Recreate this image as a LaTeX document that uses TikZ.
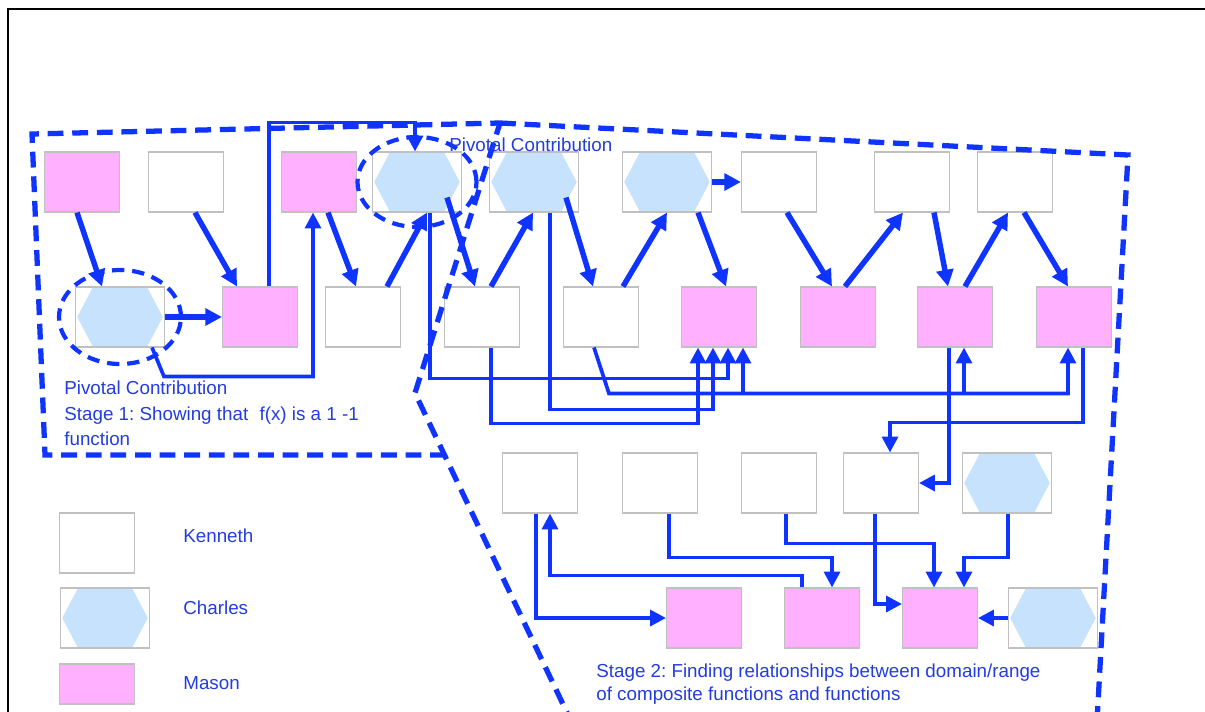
\documentclass[tikz,border=0pt]{standalone}
\usepackage{fontspec}
\setmainfont{Liberation Sans}
\usetikzlibrary{arrows.meta,calc}

\definecolor{penblue}{RGB}{16,52,255}
\definecolor{inkblue}{RGB}{35,60,225}
\definecolor{masonpink}{RGB}{255,176,255}
\definecolor{charlesblue}{RGB}{198,226,252}
\definecolor{boxgray}{RGB}{192,192,192}

\tikzset{
    % Kenneth: plain white box
    kenneth/.style={
        draw=boxgray,
        fill=white,
        line width=0.6pt,
        minimum width=1.5cm,
        minimum height=1.2cm,
        inner sep=0pt
    },
    % Mason: pink box
    mason/.style={
        kenneth,
        fill=masonpink
    },
    % Charles: hexagon in a box
    charles/.style={
        kenneth,
        minimum width=1.78cm,
        path picture={
            \fill[charlesblue]
                ([xshift=1pt]path picture bounding box.west)
                -- ([xshift=-0.54cm]path picture bounding box.north)
                -- ([xshift=0.54cm]path picture bounding box.north)
                -- ([xshift=-1pt]path picture bounding box.east)
                -- ([xshift=0.54cm]path picture bounding box.south)
                -- ([xshift=-0.54cm]path picture bounding box.south)
                -- cycle;
        }
    },
    % Diagonal moves
    push/.style={
        -{Triangle[length=9.5pt,width=9.5pt]},
        line width=3.1pt,
        penblue
    },
    % Elbow links
    link/.style={
        -{Triangle[length=9pt,width=9pt]},
        line width=2.1pt,
        penblue
    },
    % Stage outlines
    stagezone/.style={
        penblue,
        line width=3pt,
        dash pattern=on 9pt off 5pt
    },
    % Rings round pivotal contributions
    pivotring/.style={
        penblue,
        line width=2.4pt,
        dash pattern=on 7pt off 4.5pt
    },
    % Blue text
    caption/.style={
        text=inkblue,
        font=\fontsize{10.7}{14}\selectfont\frenchspacing,
        align=left,
        anchor=west,
        inner sep=0pt
    }
}

\begin{document}
\begin{tikzpicture}[x=0.02cm, y=-0.02cm]

\useasboundingbox (0,0) rectangle (1205,711);

% ==================== FRAME ====================
\draw[black, line width=1.6pt] (8,740) -- (8,9) -- (1240,9);

% ==================== TOP ROW ====================
\node[mason]   (top1) at (82,182) {};
\node[kenneth] (top2) at (186,182) {};
\node[mason]   (top3) at (319,182) {};
\node[charles] (top4) at (417,182) {};
\node[charles] (top5) at (534,182) {};
\node[charles] (top6) at (667,182) {};
\node[kenneth] (top7) at (779,182) {};
\node[kenneth] (top8) at (912,182) {};
\node[kenneth] (top9) at (1015,182) {};

% ==================== MIDDLE ROW ====================
\node[charles] (mid1) at (120,317) {};
\node[mason]   (mid2) at (260,317) {};
\node[kenneth] (mid3) at (363,317) {};
\node[kenneth] (mid4) at (482,317) {};
\node[kenneth] (mid5) at (601,317) {};
\node[mason]   (mid6) at (719,317) {};
\node[mason]   (mid7) at (838,317) {};
\node[mason]   (mid8) at (955,317) {};
\node[mason]   (mid9) at (1074,317) {};

% ==================== LOWER ROWS ====================
\node[kenneth] (low1) at (540,483) {};
\node[kenneth] (low2) at (660,483) {};
\node[kenneth] (low3) at (779,483) {};
\node[kenneth] (low4) at (881,483) {};
\node[charles] (low5) at (1007,483) {};

\node[mason]   (bot1) at (704,618) {};
\node[mason]   (bot2) at (822,618) {};
\node[mason]   (bot3) at (940,618) {};
\node[charles] (bot4) at (1053,618) {};

% ==================== STAGE 1 MOVES ====================
\draw[push] ($(top1.south)+(-5,0)$) -- ($(mid1.north)+(-18,0)$);
\draw[push] ($(top2.south)+(9,0)$) -- ($(mid2.north)+(-23,0)$);
\draw[push] (mid1.east) -- (mid2.west);
\draw[link] ($(mid2.north)+(9,0)$) |- ($(top4.north)+(-2,-29)$) -- ($(top4.north)+(-2,0)$);
\draw[link] ($(mid1.south)+(32,0)$) -- ($(mid1.south)+(44,29)$) -| ($(top3.south)+(-6,0)$);
\draw[push] ($(top3.south)+(9,0)$) -- ($(mid3.north)+(-7,0)$);
\draw[push] ($(mid3.north)+(24,0)$) -- ($(top4.south)+(10,0)$);
\draw[push] ($(top4.south east)+(-15,-15)$) -- ($(mid4.north)+(-7,0)$);

% ==================== STAGE 2 MOVES ====================
\draw[push] ($(mid4.north)+(9,0)$) -- ($(top5.south)+(-1,0)$);
\draw[push] ($(top5.south east)+(-13,-15)$) -- ($(mid5.north)+(-8,0)$);
\draw[push] ($(mid5.north)+(22,0)$) -- (top6.south);
\draw[push] ($(top6.south)+(31,0)$) -- ($(mid6.north)+(7,0)$);
\draw[push] (top6.east) -- (top7.west);
\draw[push] ($(top7.south)+(8,0)$) -- ($(mid7.north)+(-6,0)$);
\draw[push] ($(mid7.north)+(7,0)$) -- ($(top8.south)+(-9,0)$);
\draw[push] ($(top8.south)+(22,0)$) -- ($(mid8.north)+(-7,0)$);
\draw[push] ($(mid8.north)+(10,0)$) -- ($(top9.south)+(-7,0)$);
\draw[push] ($(top9.south)+(9,0)$) -- ($(mid9.north)+(-6,0)$);

% links into the middle row
\draw[link] ($(top4.south)+(13,0)$) |- ($(mid6.south)+(9,31)$) -- ($(mid6.south)+(9,0)$);
\draw[link] ($(mid4.south)+(9,0)$) |- ($(mid6.south)+(-21,76)$) -- ($(mid6.south)+(-21,0)$);
\draw[link] ($(top5.south)+(16,0)$) |- ($(mid6.south)+(-6,62)$) -- ($(mid6.south)+(-6,0)$);
\draw[link] ($(mid5.south)+(-7,0)$) -- ($(mid5.south)+(8,46)$) -| ($(mid9.south)+(-6,0)$);
\draw[link] ($(mid6.south)+(24,46)$) -- ($(mid6.south)+(24,0)$);
\draw[link] ($(mid8.south)+(9,46)$) -- ($(mid8.south)+(9,0)$);

% links down to the lower rows
\draw[link] ($(mid8.south)+(-6,0)$) |- (low4.east);
\draw[link] ($(mid9.south)+(9,0)$) |- ($(low4.north)+(9,-30)$) -- ($(low4.north)+(9,0)$);
\draw[link] ($(low1.south)+(-4,0)$) |- (bot1.west);
\draw[link] ($(bot2.north)+(-20,0)$) |- ($(low1.south)+(10,62)$) -- ($(low1.south)+(10,0)$);
\draw[link] ($(low2.south)+(9,0)$) |- ($(bot2.north)+(10,-30)$) -- ($(bot2.north)+(10,0)$);
\draw[link] ($(low3.south)+(7,0)$) |- ($(bot3.north)+(-6,-44)$) -- ($(bot3.north)+(-6,0)$);
\draw[link] ($(low4.south)+(-6,0)$) |- ($(bot3.west)+(0,-14)$);
\draw[link] ($(low5.south)+(1,0)$) |- ($(bot3.north)+(24,-30)$) -- ($(bot3.north)+(24,0)$);
\draw[link] (bot4.west) -- (bot3.east);

% ==================== PIVOTAL RINGS ====================
\draw[pivotring] (top4.center) ellipse [x radius=1.19cm, y radius=0.9cm];
\draw[pivotring] (mid1.center) ellipse [x radius=1.22cm, y radius=0.94cm];

% ==================== STAGE OUTLINES ====================
\draw[stagezone] (446,455) -- (45,455) -- (32,134) -- (500,123);
\draw[stagezone] (500,123) -- (1128,155) -- (1096,740) -- (580,740) -- (415,393) -- cycle;

% ==================== LABELS ====================
\node[caption] (pivtop) at (449,145) {Pivotal Contribution};
\node[caption] (pivlow) at (64,388) {Pivotal Contribution};
\node[caption, font=\fontsize{10.7}{14.2}\selectfont\frenchspacing] (stageone) at (64,426)
    {Stage 1: Showing that\hspace{0.6em}f(x) is a 1 -1\\function};
\node[caption, font=\fontsize{10.7}{13}\selectfont\frenchspacing] (stagetwo) at (596,684)
    {Stage 2: Finding relationships between domain/range\\of composite functions and functions};

% ==================== LEGEND ====================
\node[kenneth] (keyK) at (97,543) {};
\node[charles] (keyC) at (105,618) {};
\node[mason, minimum height=0.8cm] (keyM) at (97,684) {};
\node[caption] (keyKtext) at (183,536) {Kenneth};
\node[caption] (keyCtext) at (183,608) {Charles};
\node[caption] (keyMtext) at (183,683) {Mason};

\end{tikzpicture}
\end{document}
